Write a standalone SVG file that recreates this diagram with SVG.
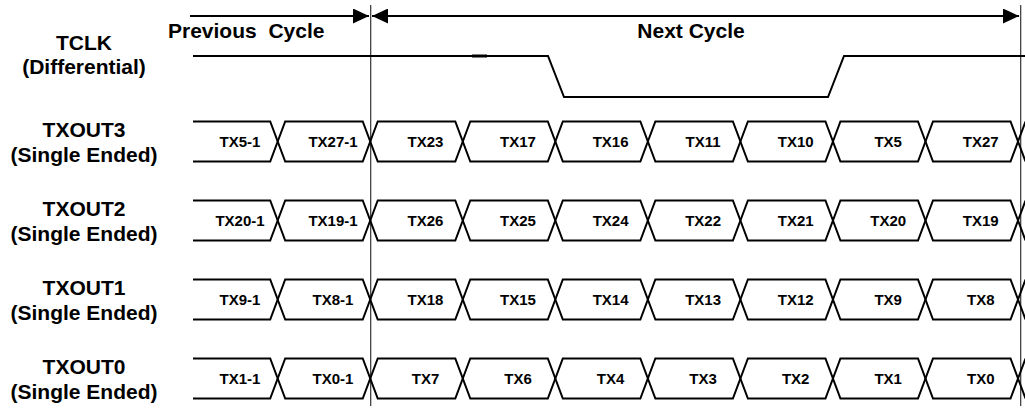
<svg xmlns="http://www.w3.org/2000/svg" xmlns:xlink="http://www.w3.org/1999/xlink" width="1025" height="408" viewBox="0 0 1025 408">
<style>
.lbl{font-family:"Liberation Sans",Arial,sans-serif;font-weight:bold;font-size:21px;fill:#000;text-anchor:middle}
.hdr{font-family:"Liberation Sans",Arial,sans-serif;font-weight:bold;font-size:21px;fill:#000;white-space:pre}
.bt{font-family:"Liberation Sans",Arial,sans-serif;font-weight:bold;font-size:15px;fill:#000;text-anchor:middle}
.wave{fill:none;stroke:#000;stroke-width:2;stroke-linejoin:miter}
.arr{fill:none;stroke:#000;stroke-width:2}
.vl{fill:none;stroke:#333;stroke-width:1.2}
</style>
<defs>
<marker id="ah" markerUnits="userSpaceOnUse" markerWidth="16" markerHeight="15" refX="16" refY="7.5" orient="auto-start-reverse" viewBox="0 0 16 15">
<path d="M0,0 L16,7.5 L0,15 Z" fill="#000"/>
</marker>
<path id="cell" d="M0,0 L7.5,-20 H85.04 L92.54,0 L85.04,20 H7.5 Z" class="wave"/>
<path id="first" d="M193,-20 H270.2 L277.7,0 L270.2,20 H193" class="wave"/>
<path id="tail" d="M1018.02,0 L1025.5,-20 M1018.02,0 L1025.5,20" class="wave"/>
</defs>
<rect width="1025" height="408" fill="#fff"/>

<g id="connectors">
<line x1="190" y1="16" x2="369" y2="16" class="arr" marker-end="url(#ah)"/>
<line x1="372" y1="16" x2="1019" y2="16" class="arr" marker-start="url(#ah)" marker-end="url(#ah)"/>
<line x1="370.7" y1="5" x2="370.7" y2="406" class="vl"/>
<line x1="1020.7" y1="5" x2="1020.7" y2="406" class="vl"/>
</g>

<g id="header">
<text x="168" y="37.5" class="hdr" xml:space="preserve">Previous  Cycle</text>
<text x="691" y="37.5" class="hdr" text-anchor="middle">Next Cycle</text>
</g>

<g id="tclk">
<text x="84" y="49.5" class="lbl">TCLK</text>
<text x="84" y="74" class="lbl">(Differential)</text>
<path d="M193,56 H548 L564,97 H828 L844,56 H1025" class="wave"/>
<line x1="472" y1="56" x2="487" y2="56" stroke="#000" stroke-width="3"/>
</g>

<g id="txout3">
<text x="84" y="136.5" class="lbl">TXOUT3</text>
<text x="84" y="161.5" class="lbl">(Single Ended)</text>
<g transform="translate(0,141.5)">
<use xlink:href="#first"/>
<use xlink:href="#cell" x="277.7"/><use xlink:href="#cell" x="370.24"/><use xlink:href="#cell" x="462.78"/><use xlink:href="#cell" x="555.32"/><use xlink:href="#cell" x="647.86"/><use xlink:href="#cell" x="740.4"/><use xlink:href="#cell" x="832.94"/><use xlink:href="#cell" x="925.48"/>
<use xlink:href="#tail"/>
<text x="240" y="5.5" class="bt">TX5-1</text><text x="333" y="5.5" class="bt">TX27-1</text><text x="425.5" y="5.5" class="bt">TX23</text><text x="518" y="5.5" class="bt">TX17</text><text x="610.6" y="5.5" class="bt">TX16</text><text x="703.1" y="5.5" class="bt">TX11</text><text x="795.7" y="5.5" class="bt">TX10</text><text x="888.2" y="5.5" class="bt">TX5</text><text x="980.75" y="5.5" class="bt">TX27</text>
</g>
</g>

<g id="txout2">
<text x="84" y="215.5" class="lbl">TXOUT2</text>
<text x="84" y="240.5" class="lbl">(Single Ended)</text>
<g transform="translate(0,220.5)">
<use xlink:href="#first"/>
<use xlink:href="#cell" x="277.7"/><use xlink:href="#cell" x="370.24"/><use xlink:href="#cell" x="462.78"/><use xlink:href="#cell" x="555.32"/><use xlink:href="#cell" x="647.86"/><use xlink:href="#cell" x="740.4"/><use xlink:href="#cell" x="832.94"/><use xlink:href="#cell" x="925.48"/>
<use xlink:href="#tail"/>
<text x="240" y="5.5" class="bt">TX20-1</text><text x="333" y="5.5" class="bt">TX19-1</text><text x="425.5" y="5.5" class="bt">TX26</text><text x="518" y="5.5" class="bt">TX25</text><text x="610.6" y="5.5" class="bt">TX24</text><text x="703.1" y="5.5" class="bt">TX22</text><text x="795.7" y="5.5" class="bt">TX21</text><text x="888.2" y="5.5" class="bt">TX20</text><text x="980.75" y="5.5" class="bt">TX19</text>
</g>
</g>

<g id="txout1">
<text x="84" y="294.5" class="lbl">TXOUT1</text>
<text x="84" y="319.5" class="lbl">(Single Ended)</text>
<g transform="translate(0,299.5)">
<use xlink:href="#first"/>
<use xlink:href="#cell" x="277.7"/><use xlink:href="#cell" x="370.24"/><use xlink:href="#cell" x="462.78"/><use xlink:href="#cell" x="555.32"/><use xlink:href="#cell" x="647.86"/><use xlink:href="#cell" x="740.4"/><use xlink:href="#cell" x="832.94"/><use xlink:href="#cell" x="925.48"/>
<use xlink:href="#tail"/>
<text x="240" y="5.5" class="bt">TX9-1</text><text x="333" y="5.5" class="bt">TX8-1</text><text x="425.5" y="5.5" class="bt">TX18</text><text x="518" y="5.5" class="bt">TX15</text><text x="610.6" y="5.5" class="bt">TX14</text><text x="703.1" y="5.5" class="bt">TX13</text><text x="795.7" y="5.5" class="bt">TX12</text><text x="888.2" y="5.5" class="bt">TX9</text><text x="980.75" y="5.5" class="bt">TX8</text>
</g>
</g>

<g id="txout0">
<text x="84" y="373.5" class="lbl">TXOUT0</text>
<text x="84" y="398.5" class="lbl">(Single Ended)</text>
<g transform="translate(0,378.5)">
<use xlink:href="#first"/>
<use xlink:href="#cell" x="277.7"/><use xlink:href="#cell" x="370.24"/><use xlink:href="#cell" x="462.78"/><use xlink:href="#cell" x="555.32"/><use xlink:href="#cell" x="647.86"/><use xlink:href="#cell" x="740.4"/><use xlink:href="#cell" x="832.94"/><use xlink:href="#cell" x="925.48"/>
<use xlink:href="#tail"/>
<text x="240" y="5.5" class="bt">TX1-1</text><text x="333" y="5.5" class="bt">TX0-1</text><text x="425.5" y="5.5" class="bt">TX7</text><text x="518" y="5.5" class="bt">TX6</text><text x="610.6" y="5.5" class="bt">TX4</text><text x="703.1" y="5.5" class="bt">TX3</text><text x="795.7" y="5.5" class="bt">TX2</text><text x="888.2" y="5.5" class="bt">TX1</text><text x="980.75" y="5.5" class="bt">TX0</text>
</g>
</g>
</svg>
